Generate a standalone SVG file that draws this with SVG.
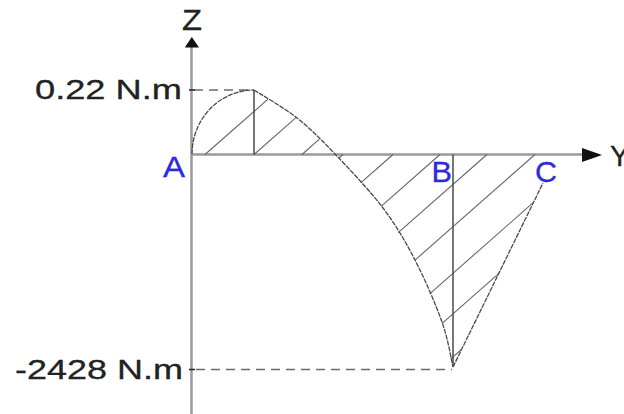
<svg xmlns="http://www.w3.org/2000/svg" width="624" height="414" viewBox="0 0 624 414">
<defs>
<style>
.axis{stroke:#9a9a9a;stroke-width:2.5;fill:none}
.head{fill:#111;stroke:none}
.ref{stroke:#6a6a6a;stroke-width:1.5;stroke-dasharray:9,6;fill:none}
.tick{stroke:#222;stroke-width:1.5}
.curve{stroke:#4a4a4a;stroke-width:1.3;fill:none;stroke-dasharray:5,1}
.vline{stroke:#4a4a4a;stroke-width:1.5;fill:none}
.hatch{stroke:#666;stroke-width:1.1;fill:none}
.val{font-family:"Liberation Sans",Arial,sans-serif;font-size:28px;fill:#222;stroke:#222;stroke-width:0.3}
.pt{font-family:"Liberation Sans",Arial,sans-serif;font-size:29px;fill:#2b2bdc;stroke:#2b2bdc;stroke-width:0.3}
.ax{font-family:"Liberation Sans",Arial,sans-serif;font-size:29px;fill:#222;stroke:#222;stroke-width:0.3}
</style>
</defs>
<rect width="624" height="414" fill="#ffffff"/>
<g id="axes">
<line class="axis" x1="191.5" y1="45" x2="191.5" y2="414"/>
<polygon class="head" points="191.8,37 184.8,47.5 199,47.5"/>
<line class="axis" x1="191.5" y1="154.5" x2="584" y2="154.5"/>
<polygon class="head" points="602,155 582,148 582,162"/>
<text id="label-z" class="ax" x="182" y="30" textLength="20" lengthAdjust="spacingAndGlyphs">Z</text>
<text id="label-y" class="ax" x="610" y="166">Y</text>
</g>
<g id="reference-lines">
<line class="ref" x1="194" y1="90" x2="254" y2="90"/>
<line class="ref" x1="196" y1="369.5" x2="452" y2="369.5"/>
<line class="tick" x1="189" y1="90" x2="195" y2="90"/>
<line class="tick" x1="189" y1="369.5" x2="195" y2="369.5"/>
<text id="label-max" class="val" x="35" y="99" textLength="147" lengthAdjust="spacingAndGlyphs">0.22 N.m</text>
<text id="label-min" class="val" x="15" y="379" textLength="168" lengthAdjust="spacingAndGlyphs">-2428 N.m</text>
</g>
<g id="hatching">
<line class="hatch" x1="205" y1="154.5" x2="268" y2="99.1"/>
<line class="hatch" x1="254" y1="154.5" x2="296.2" y2="117.4"/>
<line class="hatch" x1="302" y1="154.5" x2="319.4" y2="139.2"/>
<line class="hatch" x1="343" y1="154.5" x2="339" y2="158"/>
<line class="hatch" x1="393" y1="154.5" x2="360.7" y2="182.9"/>
<line class="hatch" x1="440" y1="154.5" x2="381.4" y2="206.1"/>
<line class="hatch" x1="487" y1="154.5" x2="398.2" y2="232.6"/>
<line class="hatch" x1="535" y1="154.5" x2="415" y2="260.1"/>
<line class="hatch" x1="533.2" y1="202.7" x2="429.7" y2="293.8"/>
<line class="hatch" x1="498.4" y1="273.8" x2="442.4" y2="323.1"/>
<line class="hatch" x1="461.4" y1="349.5" x2="451" y2="358.7"/>
</g>
<g id="moment-diagram">
<path class="curve" d="M192,154 A62,64 0 0 1 254,90"/>
<path class="curve" d="M254,90 C261.2,94.7 283.5,107.3 297,118 C310.5,128.7 320.7,139 335,154 C349.3,169 369.7,190.3 383,208 C396.3,225.7 405.2,241 415,260 C424.8,279 435.7,304.2 442,322 C448.3,339.8 451.2,359.5 453,367"/>
<path class="curve" d="M453,367 L543,183"/>
<line class="vline" x1="254" y1="90" x2="254" y2="154.5"/>
<line class="vline" x1="453" y1="154.5" x2="453" y2="367"/>
</g>
<g id="point-a"><text class="pt" x="163" y="177" textLength="22" lengthAdjust="spacingAndGlyphs">A</text></g>
<g id="point-b"><text class="pt" x="431.5" y="182" textLength="20.5" lengthAdjust="spacingAndGlyphs">B</text></g>
<g id="point-c"><text class="pt" x="535" y="182" textLength="22" lengthAdjust="spacingAndGlyphs">C</text></g>
</svg>
